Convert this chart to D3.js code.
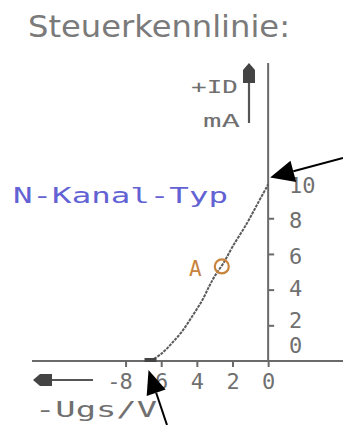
<!DOCTYPE html>
<html><head><meta charset="utf-8">
<script src="https://cdn.jsdelivr.net/npm/d3@7"></script>
<style>html,body{margin:0;padding:0;background:#fff;}svg{display:block;}</style>
</head><body>
<svg id="c" width="343" height="425"></svg>
<script>
// ---- data ----
const title = "Steuerkennlinie:";
const typeLabel = "N-Kanal-Typ";
const ugs = [-6.6, -6.0, -5.4, -4.8, -4.2, -3.7, -3.3, -3.0, -2.5, -2.0, -1.2, -0.6, 0];
const id  = [0, 0.4, 1.0, 1.7, 2.6, 3.4, 4.2, 4.75, 5.5, 6.4, 7.7, 8.8, 9.9];
const xTicks = [-8, -6, -4, -2, 0];
const yTicks = [2, 4, 6, 8];
const yLabels = [0, 2, 4, 6, 8, 10];
const workPoint = [-2.6, 5.3];
const pinchOff = -6.6;

const svg = d3.select("#c");
const gray = "#707070", axisCol = "#6a6a6a";
const mono = "DejaVu Sans Mono";
const x = d3.scaleLinear().domain([-13.25, 4.2]).range([32, 343]);
const y = d3.scaleLinear().domain([0, 16.7]).range([361, 63]);

// title
svg.append("text").attr("x", 28).attr("y", 37).text(title)
  .attr("font-family", "DejaVu Sans").attr("font-size", 30).attr("fill", "#7a7a7a")
  .attr("textLength", 262).attr("lengthAdjust", "spacingAndGlyphs");

// x axis
const xa = svg.append("g").attr("transform", `translate(0,${y(0)})`)
  .call(d3.axisBottom(x).tickValues(xTicks).tickSize(6).tickSizeOuter(0).tickFormat(d => Math.abs(d)));
xa.select(".domain").remove();
xa.selectAll(".tick line").attr("stroke", axisCol).attr("stroke-width", 2);
xa.selectAll(".tick text").attr("y", 28).attr("dy", 0)
  .attr("font-family", mono).attr("font-size", 22).attr("fill", gray);
svg.append("line").attr("x1", 32).attr("x2", 343).attr("y1", y(0)).attr("y2", y(0))
  .attr("stroke", axisCol).attr("stroke-width", 2);
// minus sign before 8 and left arrow
svg.append("text").attr("x", x(-8) - 5).attr("y", y(0) + 28).attr("text-anchor", "end").text("-")
  .attr("font-family", mono).attr("font-size", 22).attr("fill", gray);
svg.append("line").attr("x1", 45).attr("x2", 93).attr("y1", 380).attr("y2", 380)
  .attr("stroke", "#555").attr("stroke-width", 2.2);
svg.append("path").attr("d", "M33,380 L40,374 L52,374 L52,386 L40,386 Z").attr("fill", "#444");
svg.append("text").attr("x", 35).attr("y", 417).text("-Ugs/V")
  .attr("font-family", mono).attr("font-size", 21).attr("fill", gray)
  .attr("textLength", 122).attr("lengthAdjust", "spacingAndGlyphs");

// y axis
svg.append("line").attr("x1", x(0)).attr("x2", x(0)).attr("y1", 63).attr("y2", y(0))
  .attr("stroke", axisCol).attr("stroke-width", 2);
const ya = svg.append("g").attr("transform", `translate(${x(0)},0)`)
  .call(d3.axisRight(y).tickValues(yTicks).tickSize(6).tickSizeOuter(0).tickFormat(""));
ya.select(".domain").remove();
ya.selectAll(".tick line").attr("stroke", axisCol).attr("stroke-width", 2);
svg.append("g").selectAll("text").data(yLabels).join("text")
  .attr("x", 289).attr("y", d => y(d) + 8 + (d === 0 ? -16 : d === 2 ? -5 : d === 4 ? -2 : 2))
  .text(d => d)
  .attr("font-family", mono).attr("font-size", 22).attr("fill", gray);
// up arrow + labels
svg.append("line").attr("x1", 249).attr("x2", 249).attr("y1", 80).attr("y2", 123)
  .attr("stroke", "#555").attr("stroke-width", 2.2);
svg.append("path").attr("d", "M249,63 L255,70 L255,83 L243,83 L243,70 Z").attr("fill", "#444");
svg.append("text").attr("x", 191).attr("y", 93).text("+ID")
  .attr("font-family", mono).attr("font-size", 18).attr("fill", gray)
  .attr("textLength", 47).attr("lengthAdjust", "spacingAndGlyphs");
svg.append("text").attr("x", 203).attr("y", 127).text("mA")
  .attr("font-family", mono).attr("font-size", 18).attr("fill", gray)
  .attr("textLength", 37).attr("lengthAdjust", "spacingAndGlyphs");

// N-Kanal-Typ
svg.append("text").attr("x", 13).attr("y", 203).text(typeLabel)
  .attr("font-family", mono).attr("font-size", 21).attr("fill", "#6262d4")
  .attr("textLength", 215).attr("lengthAdjust", "spacingAndGlyphs");

// curve
const pts = ugs.map((u, i) => [u, id[i]]);
svg.append("path").datum(pts)
  .attr("d", d3.line().x(d => x(d[0])).y(d => y(d[1])).curve(d3.curveCatmullRom))
  .attr("fill", "none").attr("stroke", "#5a5a5a").attr("stroke-width", 2)
  .attr("stroke-dasharray", "3,1");
// pinch-off blob
svg.append("rect").attr("x", x(pinchOff) - 6).attr("y", y(0) - 3).attr("width", 12).attr("height", 4)
  .attr("fill", "#444");

// working point
svg.append("text").attr("x", 189).attr("y", 276).text("A")
  .attr("font-family", mono).attr("font-size", 21).attr("fill", "#c8843c");
svg.append("circle").attr("cx", x(workPoint[0])).attr("cy", y(workPoint[1])).attr("r", 7)
  .attr("fill", "none").attr("stroke", "#c8843c").attr("stroke-width", 2.2);

// black pointer arrows
function arrow(x1, y1, x2, y2, len, hw) {
  const a = Math.atan2(y2 - y1, x2 - x1);
  const bx = x2 - len * Math.cos(a), by = y2 - len * Math.sin(a);
  svg.append("line").attr("x1", x1).attr("y1", y1).attr("x2", bx).attr("y2", by)
    .attr("stroke", "#000").attr("stroke-width", 2);
  const px = -Math.sin(a) * hw, py = Math.cos(a) * hw;
  svg.append("path").attr("d", `M${x2},${y2} L${bx + px},${by + py} L${bx - px},${by - py} Z`).attr("fill", "#000");
}
arrow(343, 158, x(0) + 2, y(10) - 5, 24, 11);
arrow(167, 425, x(pinchOff) - 2, y(0) + 9, 24, 10);
</script>
</body></html>
